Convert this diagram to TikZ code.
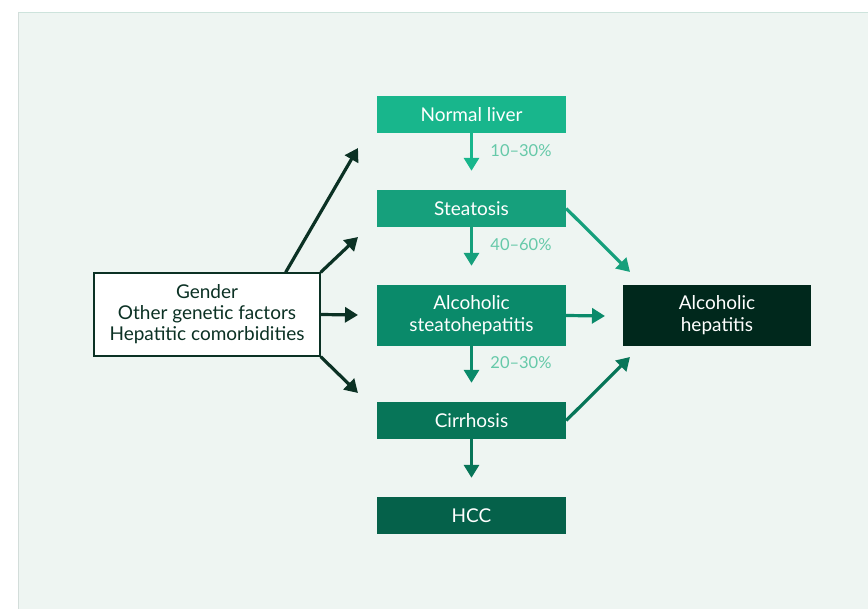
\documentclass[tikz,border=0pt]{standalone}
\usepackage{fontspec}
\setmainfont{Lato}
\usetikzlibrary{arrows.meta}
\definecolor{bgc}{HTML}{EEF5F2}
\definecolor{topc}{HTML}{CDE3DC}
\definecolor{leftc}{HTML}{D3DDDA}
\definecolor{c1}{HTML}{18B68C}
\definecolor{c2}{HTML}{16A07C}
\definecolor{c3}{HTML}{0A8A6A}
\definecolor{c4}{HTML}{077558}
\definecolor{c5}{HTML}{05614A}
\definecolor{c6}{HTML}{00281C}
\definecolor{dk}{HTML}{0B3124}
\definecolor{pct}{HTML}{66C9A9}
\tikzset{
  stage/.style={rectangle, minimum width=189pt, minimum height=37pt, inner sep=0pt, text=white, font=\fontsize{19}{22}\selectfont, align=center},
  tall/.style={minimum height=61pt},
  arr/.style={line width=3.2pt, -{Triangle[width=15pt,length=13pt]}},
  pctlab/.style={text=pct, font=\fontsize{16.5}{18}\selectfont, anchor=center}
}
\begin{document}
\begin{tikzpicture}[x=1pt,y=-1pt]
\useasboundingbox (0,0) rectangle (868,609);
\fill[bgc] (18,12) rectangle (868,609);
\draw[topc, line width=1.5pt] (18,12.5) -- (868,12.5);
\draw[leftc, line width=0.8pt] (18.4,12) -- (18.4,609);

\node[stage, fill=c1] (nl) at (471.5,114.5) {Normal liver};
\node[stage, fill=c2] (st) at (471.5,208.5) {Steatosis};
\node[stage, tall, fill=c3] (ash) at (471.5,315.5) {Alcoholic\\steatohepatitis};
\node[stage, fill=c4] (ci) at (471.5,420.5) {Cirrhosis};
\node[stage, fill=c5] (hcc) at (471.5,515.5) {HCC};
\node[stage, tall, fill=c6, minimum width=188pt] (ah) at (717,315.5) {Alcoholic\\hepatitis};
\node[rectangle, draw=dk, line width=1.3pt, fill=white, minimum width=226pt, minimum height=83pt, inner sep=0pt, align=center, text=dk, font=\fontsize{19}{21}\selectfont] (fac) at (207,314.5) {Gender\\Other genetic factors\\Hepatitic comorbidities};

\draw[arr, c1, shorten >=19pt] (nl) -- (st);
\draw[arr, c2, shorten >=19pt] (st) -- (ash);
\draw[arr, c3, shorten >=19pt] (ash) -- (ci);
\draw[arr, c4, shorten >=19pt] (ci) -- (hcc);

\node[pctlab] (p1) at (521,151) {10–30\%};
\node[pctlab] (p2) at (521,245) {40–60\%};
\node[pctlab] (p3) at (521,363) {20–30\%};

\coordinate (t1) at (358,148);
\coordinate (t2) at (358,237);
\coordinate (t3) at (358,315);
\coordinate (t4) at (358,393);
\draw[arr, dk] (fac.north east) ++(-35,0) coordinate (s1) -- (t1);
\draw[arr, dk] (fac.north east) -- (t2);
\draw[arr, dk] (fac.east) -- (t3);
\draw[arr, dk] (fac.south east) -- (t4);

\coordinate (a1) at (630,272);
\coordinate (a2) at (605,316);
\coordinate (a3) at (630,357);
\draw[arr, c2] (st.east) -- (a1);
\draw[arr, c3] (ash.east) -- (a2);
\draw[arr, c4] (ci.east) -- (a3);
\end{tikzpicture}
\end{document}
